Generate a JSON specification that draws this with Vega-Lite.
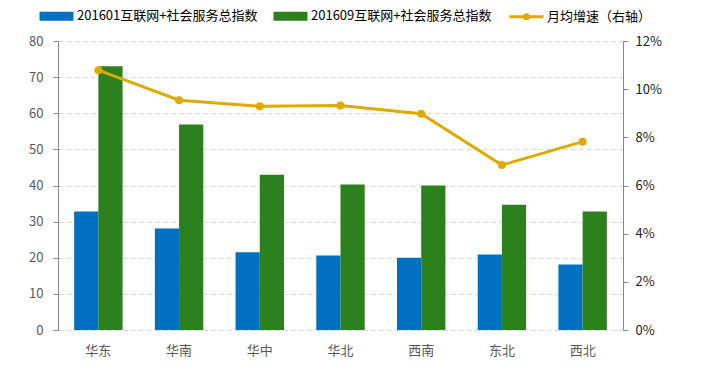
{
  "$schema": "https://vega.github.io/schema/vega-lite/v6.json",
  "width": 565,
  "height": 289,
  "autosize": {"type": "none"},
  "padding": {"left": 58, "top": 41, "right": 82, "bottom": 50},
  "config": {
    "view": {"stroke": null},
    "font": "Noto Sans CJK SC",
    "axis": {"labelFont": "Noto Sans CJK SC", "labelFontSize": 13, "title": null}
  },
  "data": {
    "values": [
      {"region": "华东", "series": "201601互联网+社会服务总指数", "value": 32.8},
      {"region": "华南", "series": "201601互联网+社会服务总指数", "value": 28.1},
      {"region": "华中", "series": "201601互联网+社会服务总指数", "value": 21.5},
      {"region": "华北", "series": "201601互联网+社会服务总指数", "value": 20.6},
      {"region": "西南", "series": "201601互联网+社会服务总指数", "value": 20.0},
      {"region": "东北", "series": "201601互联网+社会服务总指数", "value": 20.9},
      {"region": "西北", "series": "201601互联网+社会服务总指数", "value": 18.1},
      {"region": "华东", "series": "201609互联网+社会服务总指数", "value": 73.0},
      {"region": "华南", "series": "201609互联网+社会服务总指数", "value": 56.9},
      {"region": "华中", "series": "201609互联网+社会服务总指数", "value": 43.0},
      {"region": "华北", "series": "201609互联网+社会服务总指数", "value": 40.3},
      {"region": "西南", "series": "201609互联网+社会服务总指数", "value": 40.0},
      {"region": "东北", "series": "201609互联网+社会服务总指数", "value": 34.7},
      {"region": "西北", "series": "201609互联网+社会服务总指数", "value": 32.8},
      {"region": "华东", "series": "月均增速（右轴）", "value": 0.1079},
      {"region": "华南", "series": "月均增速（右轴）", "value": 0.0954},
      {"region": "华中", "series": "月均增速（右轴）", "value": 0.0929},
      {"region": "华北", "series": "月均增速（右轴）", "value": 0.0932},
      {"region": "西南", "series": "月均增速（右轴）", "value": 0.0898},
      {"region": "东北", "series": "月均增速（右轴）", "value": 0.0685},
      {"region": "西北", "series": "月均增速（右轴）", "value": 0.0782}
    ]
  },
  "encoding": {
    "x": {
      "field": "region",
      "type": "nominal",
      "sort": null,
      "scale": {"paddingInner": 0.4, "paddingOuter": 0.2},
      "axis": {"labelAngle": 0, "domain": false, "ticks": false, "labelPadding": 14, "labelColor": "#595959", "labelFontSize": 13}
    },
    "color": {
      "field": "series",
      "type": "nominal",
      "sort": null,
      "scale": {
        "domain": ["201601互联网+社会服务总指数", "201609互联网+社会服务总指数", "月均增速（右轴）"],
        "range": ["#0070C0", "#2C801E", "#DDAA00"]
      },
      "legend": {
        "orient": "none",
        "legendX": -20,
        "legendY": -43.5,
        "direction": "horizontal",
        "title": null,
        "labelFontSize": 13,
        "labelColor": "#000000",
        "labelLimit": 400,
        "labelOffset": 2,
        "columnPadding": 11,
        "symbolSize": 1156,
        "symbolStrokeWidth": 3,
        "encode": {
          "symbols": {
            "update": {
              "shape": {"signal": "datum.value === '月均增速（右轴）' ? 'M-1,0L1,0M-0.12,0A0.12,0.12,0,1,1,0.12,0A0.12,0.12,0,1,1,-0.12,0Z' : 'M-0.91,-0.18L0.91,-0.18L0.91,0.18L-0.91,0.18Z'"},
              "fill": {"signal": "scale('color', datum.value)"},
              "stroke": {"signal": "scale('color', datum.value)"},
              "opacity": {"value": 1},
              "fillOpacity": {"value": 1},
              "strokeOpacity": {"value": 1}
            }
          }
        }
      }
    }
  },
  "layer": [
    {
      "transform": [{"filter": "datum.series !== '月均增速（右轴）'"}],
      "mark": {"type": "bar"},
      "encoding": {
        "xOffset": {"field": "series", "type": "nominal", "sort": null},
        "y": {
          "field": "value",
          "type": "quantitative",
          "scale": {"domain": [0, 80], "nice": false},
          "axis": {
            "values": [0, 10, 20, 30, 40, 50, 60, 70, 80],
            "domainColor": "#888888",
            "tickColor": "#888888",
            "tickSize": 5,
            "labelPadding": 10,
            "labelColor": "#595959",
            "gridColor": "#D9D9D9",
            "gridDash": [5, 3],
            "grid": true
          }
        }
      }
    },
    {
      "transform": [{"filter": "datum.series === '月均增速（右轴）'"}],
      "mark": {"type": "line", "strokeWidth": 3, "point": {"filled": true, "size": 64}},
      "encoding": {
        "y": {
          "field": "value",
          "type": "quantitative",
          "scale": {"domain": [0, 0.12], "nice": false},
          "axis": {
            "orient": "right",
            "values": [0, 0.02, 0.04, 0.06, 0.08, 0.1, 0.12],
            "format": ".0%",
            "grid": false,
            "domainColor": "#888888",
            "tickColor": "#888888",
            "tickSize": 5,
            "labelPadding": 7,
            "labelColor": "#222222"
          }
        }
      }
    }
  ],
  "resolve": {"scale": {"y": "independent"}}
}
